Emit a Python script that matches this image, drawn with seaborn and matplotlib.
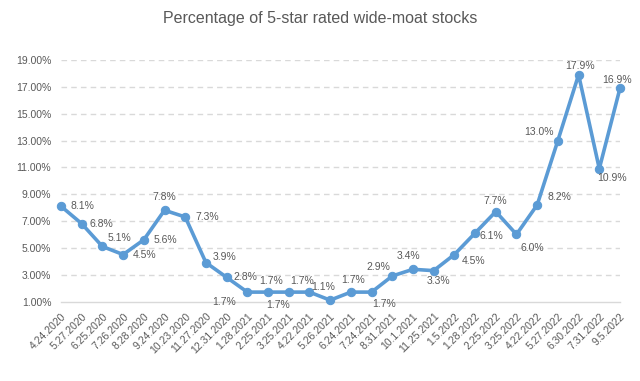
import pandas as pd
import matplotlib
matplotlib.use("Agg")
import matplotlib.pyplot as plt
import seaborn as sns

# --- datos ---
fechas = ["4.24.2020", "5.27.2020", "6.25.2020", "7.26.2020", "8.28.2020", "9.24.2020",
          "10.23.2020", "11.27.2020", "12.31.2020", "1.28.2021", "2.25.2021", "3.25.2021",
          "4.22.2021", "5.26.2021", "6.24.2021", "7.24.2021", "8.31.2021", "10.1.2021",
          "11.25.2021", "1.5.2022", "1.28.2022", "2.25.2022", "3.25.2022", "4.22.2022",
          "5.27.2022", "6.30.2022", "7.31.2022", "9.5.2022"]
porcentaje = [8.1, 6.8, 5.1, 4.5, 5.6, 7.8, 7.3, 3.9, 2.8, 1.7, 1.7, 1.7, 1.7, 1.1,
              1.7, 1.7, 2.9, 3.4, 3.3, 4.5, 6.1, 7.7, 6.0, 8.2, 13.0, 17.9, 10.9, 16.9]
y_ticks = [1, 3, 5, 7, 9, 11, 13, 15, 17, 19]
titulo = "Percentage of 5-star rated wide-moat stocks"

# desplazamiento de cada etiqueta (pixeles, y hacia arriba)
offsets = [(21, 0), (20, 0), (17, 8), (21, 0), (22, 0), (0, 13), (22, 0), (19, 6),
           (19, 0), (-23, -10), (3, 11), (-11, -13), (-7, 11), (-7, 13), (2, 12),
           (13, -12), (-14, 9), (-4, 13), (5, -10), (19, -6), (16, -3), (-1, 11),
           (16, -14), (22, 8), (-19, 9), (1, 9), (13, -9), (-3, 8)]

df = pd.DataFrame({"pos": range(len(fechas)), "fecha": fechas, "valor": porcentaje})

sns.set_style("white")
plt.rcParams["font.family"] = ["Liberation Sans", "DejaVu Sans"]

gris = "#595959"
azul = "#5B9BD5"

fig = plt.figure(figsize=(6.4, 3.81), dpi=100)
ax = fig.add_axes([61 / 640, 1 - 301.5 / 381, (620 - 61) / 640, (301.5 - 60) / 381])

for t in y_ticks[1:]:
    ax.axhline(t, color="#D9D9D9", lw=1.0, ls=(0, (4, 3)), zorder=0)

sns.lineplot(data=df, x="pos", y="valor", ax=ax, color=azul, lw=2.6,
             marker="o", markersize=6, markeredgecolor=azul, clip_on=False, zorder=3)

for i, (v, (dx, dy)) in enumerate(zip(porcentaje, offsets)):
    ax.annotate(f"{v:.1f}%", (i, v), xytext=(dx, dy), textcoords="offset pixels",
                ha="center", va="center", fontsize=7.5, color=gris)

ax.set_xlim(0, len(fechas) - 1)
ax.set_ylim(1, 19)
ax.set_yticks(y_ticks)
ax.set_yticklabels([f"{t:.2f}%" for t in y_ticks], fontsize=7.5, color=gris)
ax.set_xticks(df["pos"])
ax.set_xticklabels(fechas, rotation=45, ha="right", rotation_mode="anchor",
                   fontsize=7.5, color=gris)
ax.tick_params(axis="y", length=0, pad=7)
ax.tick_params(axis="x", length=4, color="#D9D9D9", direction="out", pad=3)

for s in ["top", "right", "left"]:
    ax.spines[s].set_visible(False)
ax.spines["bottom"].set_color("#D9D9D9")
ax.spines["bottom"].set_linewidth(1.0)
ax.set_xlabel("")
ax.set_ylabel("")

fig.text(0.5, 1 - 19 / 381, titulo, ha="center", va="center", fontsize=11.5, color=gris)

fig.savefig("out.png", dpi=100)
